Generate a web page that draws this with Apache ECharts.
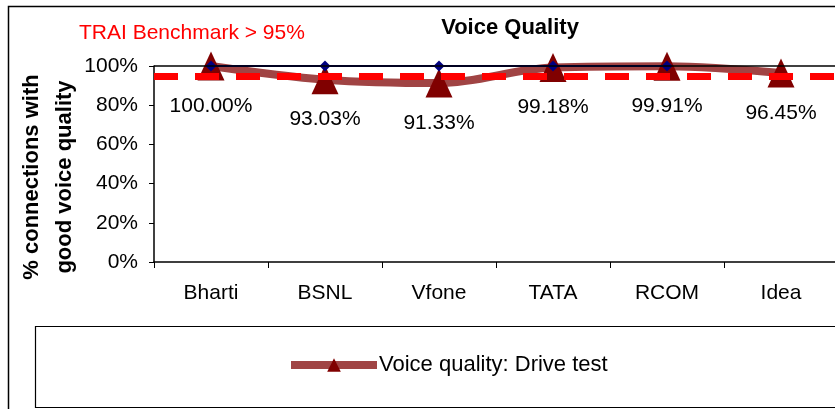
<!DOCTYPE html>
<html>
<head>
<meta charset="utf-8">
<script src="https://cdn.jsdelivr.net/npm/echarts@6/dist/echarts.min.js"></script>
<style>
  * { margin: 0; padding: 0; }
  html, body { background: #fff; }
  #chart { width: 835px; height: 409px; }
</style>
</head>
<body>
<div id="chart"></div>
<script>
// operators and measured values
var operators = ["Bharti", "BSNL", "Vfone", "TATA", "RCOM", "Idea"];
var driveTest = [100.00, 93.03, 91.33, 99.18, 99.91, 96.45];
var target = [100, 100, 100, 100, 100, "-"];
var benchmark = 95;
var yTicks = { min: 0, max: 100, interval: 20 };

var font = "Arial, 'Liberation Sans', sans-serif";

var chart = echarts.init(document.getElementById("chart"));
chart.setOption({
  animation: false,
  backgroundColor: "#fff",
  title: {
    text: "Voice Quality",
    left: 505,
    textAlign: "center",
    top: 12,
    textStyle: { fontFamily: font, fontSize: 22, fontWeight: "bold", color: "#000" }
  },
  grid: { left: 154, top: 66, right: -3, bottom: 147, containLabel: false, outerBoundsMode: "none" },
  legend: {
    left: 282,
    top: 349,
    itemWidth: 86,
    itemHeight: 17,
    itemGap: 0,
    data: ["Voice quality: Drive test"],
    lineStyle: { width: 8 },
    textStyle: { fontFamily: font, fontSize: 22, color: "#000", padding: [0, 0, 0, -3] }
  },
  xAxis: {
    type: "category",
    data: operators,
    boundaryGap: true,
    axisLine: { lineStyle: { color: "#000", width: 1.5 } },
    axisTick: { show: true, length: 6, inside: false, lineStyle: { color: "#000" } },
    axisLabel: { color: "#000", fontFamily: font, fontSize: 21, margin: 21 }
  },
  yAxis: {
    type: "value",
    min: yTicks.min,
    max: yTicks.max,
    interval: yTicks.interval,
    axisLine: { show: true, lineStyle: { color: "#000", width: 1.5 } },
    axisTick: { show: true, length: 5, lineStyle: { color: "#000" } },
    splitLine: { show: false },
    axisLabel: {
      color: "#000", fontFamily: font, fontSize: 21, margin: 16,
      formatter: "{value}%"
    }
  },
  series: [
    {
      name: "Voice quality: Drive test",
      type: "line",
      data: driveTest,
      smooth: 0.35,
      z: 2,
      symbol: "triangle",
      symbolSize: [27, 29],
      itemStyle: { color: "#800000" },
      lineStyle: { color: "#a04444", width: 8 },
      label: {
        show: true,
        position: "bottom",
        distance: 15,
        color: "#000",
        fontFamily: font,
        fontSize: 21,
        formatter: function (p) { return p.value.toFixed(2) + "%"; }
      },
      markLine: {
        silent: true,
        symbol: "none",
        label: { show: false },
        lineStyle: { color: "#000", width: 1.5, type: "solid" },
        data: [{ yAxis: 100 }]
      }
    },
    {
      name: "target",
      type: "line",
      data: target,
      z: 3,
      symbol: "diamond",
      symbolSize: 11,
      itemStyle: { color: "#000080" },
      lineStyle: { color: "#000080", width: 2 },
      markLine: {
        silent: true,
        symbol: "none",
        label: { show: false },
        lineStyle: { color: "#ff0000", width: 7, type: [24, 17] },
        data: [{ yAxis: benchmark }]
      }
    }
  ],
  graphic: [
    {
      type: "rect",
      silent: true,
      shape: { x: 8.5, y: 6.5, width: 840, height: 420 },
      style: { fill: null, stroke: "#000", lineWidth: 1.5 }
    },
    {
      type: "rect",
      silent: true,
      shape: { x: 35.5, y: 326.5, width: 820, height: 81 },
      style: { fill: null, stroke: "#000", lineWidth: 1.2 }
    },
    {
      type: "text",
      left: 79,
      top: 23,
      style: { text: "TRAI Benchmark > 95%", fill: "#ff0000", font: "21px " + font }
    },
    {
      type: "text",
      x: 48,
      y: 177,
      rotation: Math.PI / 2,
      style: {
        text: "% connections with\ngood voice quality",
        fill: "#000",
        font: "bold 22px " + font,
        lineHeight: 33,
        align: "center",
        verticalAlign: "middle"
      }
    }
  ]
});
</script>
</body>
</html>
